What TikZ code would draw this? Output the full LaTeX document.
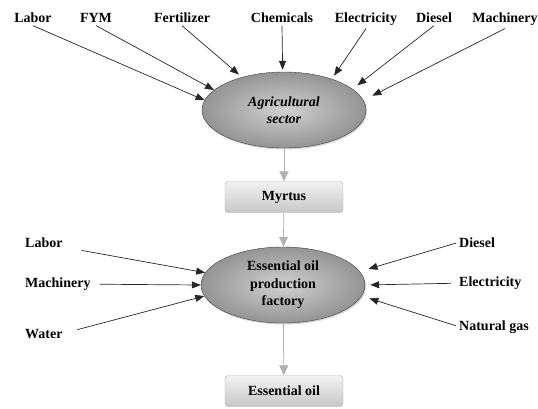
\documentclass[tikz,border=0pt]{standalone}
\usepackage{fontspec}
\setmainfont{Liberation Serif}
\usetikzlibrary{arrows.meta,shapes.geometric,shadows}

\tikzset{
  inp/.style={font=\fontsize{14}{17.5}\selectfont\bfseries, inner xsep=0pt},
  unit/.style={ellipse, draw=black!75, inner sep=0pt, minimum width=164pt,
    minimum height=76pt, inner color=black!18, outer color=black!42,
    align=center, font=\fontsize{14}{17.5}\selectfont\bfseries,
    drop shadow={shadow xshift=1pt, shadow yshift=-1.5pt, opacity=.35}},
  prod/.style={rectangle, rounded corners=3pt, draw=black!30, top color=black!5,
    bottom color=black!22, minimum width=118pt, minimum height=31pt,
    font=\fontsize{14}{17.5}\selectfont\bfseries},
  feed/.style={-{Triangle[length=9pt,width=7pt]}, black!85, line width=.7pt},
  flow/.style={-{Triangle[length=10pt,width=9pt]}, black!30, line width=.8pt},
}

\begin{document}
\begin{tikzpicture}[x=1pt,y=-1pt]
\useasboundingbox (0,0) rectangle (538,408);

\node[unit] (agri) at (284,110) {\itshape Agricultural\\\itshape sector};
\node[prod] (myrtus) at (284,197) {Myrtus};
\node[unit] (factory) at (283,285) {Essential oil\\production\\factory};
\node[prod] (oil) at (284,391) {Essential oil};

\node[inp,anchor=base] (a1) at (33,22) {Labor};
\node[inp,anchor=base] (a2) at (96,22) {FYM};
\node[inp,anchor=base] (a3) at (182,22) {Fertilizer};
\node[inp,anchor=base] (a4) at (282,22) {Chemicals};
\node[inp,anchor=base] (a5) at (366,22) {Electricity};
\node[inp,anchor=base] (a6) at (434,22) {Diesel};
\node[inp,anchor=base] (a7) at (505,22) {Machinery};

\node[inp,anchor=base west] (b1) at (25,247) {Labor};
\node[inp,anchor=base west] (b2) at (25,287.5) {Machinery};
\node[inp,anchor=base west] (b3) at (25,338) {Water};

\node[inp,anchor=base west] (c1) at (459,247) {Diesel};
\node[inp,anchor=base west] (c2) at (459,286.5) {Electricity};
\node[inp,anchor=base west] (c3) at (459,330) {Natural gas};

\draw[feed] (a1.south) -- (agri.173);
\draw[feed] (a2.south) -- (agri.164);
\draw[feed,shorten >=4pt] (a3.south) -- (agri.142);
\draw[feed,shorten >=2pt] (a4.south) -- (agri.92);
\draw[feed,shorten >=4pt] (a5.south) -- (agri.33);
\draw[feed,shorten >=6pt] (a6.south) -- (agri.17);
\draw[feed,shorten >=10pt] (a7.south) -- (agri.7);

\draw[feed,shorten <=19pt] (b1.base east) -- (factory.171);
\draw[feed,shorten <=9pt] (b2.east) -- (factory.west);
\draw[feed,shorten <=15pt] (b3.east) -- (factory.188);

\draw[feed,shorten <=3pt,shorten >=9pt] (c1.west) -- (factory.10);
\draw[feed,shorten <=8pt,shorten >=5pt] (c2.west) -- (factory.east);
\draw[feed,shorten <=3pt,shorten >=8pt] (c3.west) -- (factory.352);

\draw[flow] (agri) -- (myrtus);
\draw[flow] (myrtus) -- (factory);
\draw[flow] (factory) -- (oil);
\end{tikzpicture}
\end{document}
